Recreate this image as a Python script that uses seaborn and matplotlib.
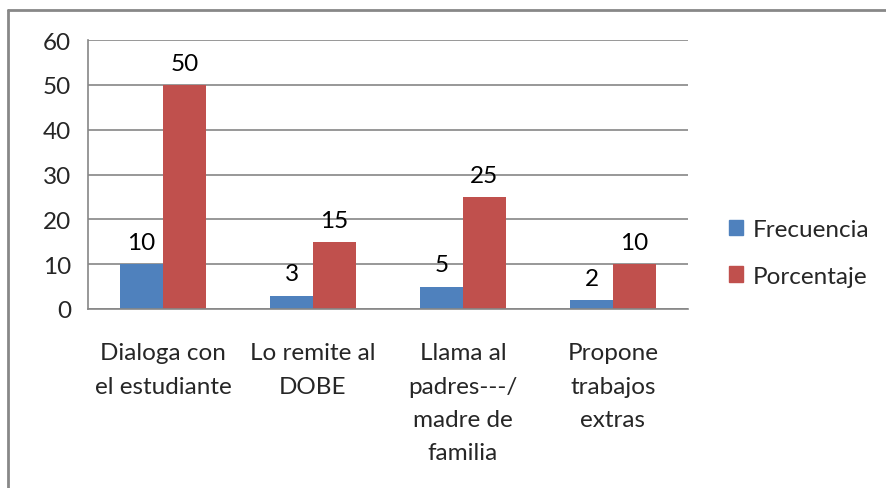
import pandas as pd
import matplotlib.pyplot as plt
import seaborn as sns
from matplotlib.lines import Line2D

# data
categorias = ["Dialoga con\nel estudiante", "Lo remite al\nDOBE",
              "Llama al\npadres---/\nmadre de\nfamilia", "Propone\ntrabajos\nextras"]
frecuencia = [10, 3, 5, 2]
porcentaje = [50, 15, 25, 10]

df = pd.DataFrame({
    "categoria": categorias * 2,
    "valor": frecuencia + porcentaje,
    "serie": ["Frecuencia"] * 4 + ["Porcentaje"] * 4,
})

sns.set_style("white")
plt.rcParams['font.family'] = ['Lato', 'DejaVu Sans']
fs = 17.5

fig = plt.figure(figsize=(8.87, 4.89), dpi=100)
ax = fig.add_axes([88 / 887, 1 - 310 / 489, 600 / 887, 269 / 489])

sns.barplot(data=df, x="categoria", y="valor", hue="serie", ax=ax,
            palette=["#4F81BD", "#C0504D"], width=0.573, saturation=1,
            edgecolor="none")

for cont in ax.containers:
    ax.bar_label(cont, padding=8, fontsize=fs, color="black")

ax.set_ylim(0, 60)
ax.set_yticks(range(0, 61, 10))
ax.set_xlim(-0.5, 3.5)
ax.set_xlabel("")
ax.set_ylabel("")
ax.yaxis.grid(True, color="#868686", lw=1.2)
ax.set_axisbelow(True)
for s in ["top", "right"]:
    ax.spines[s].set_visible(False)
for s in ["left", "bottom"]:
    ax.spines[s].set_color("#868686")
    ax.spines[s].set_linewidth(1.2)

ax.tick_params(axis="y", length=7, color="#868686", width=1.2, labelsize=fs, pad=5)
ax.tick_params(axis="x", which="major", length=0, labelsize=fs, pad=24)
ax.set_xticks([-0.5, 0.5, 1.5, 2.5, 3.5], minor=True)
ax.tick_params(axis="x", which="minor", length=7, color="#868686", width=1.2)
for t in ax.get_xticklabels():
    t.set_linespacing(1.72)

ax.legend_.remove()
handles = [plt.Rectangle((0, 0), 1, 1, color="#4F81BD"),
           plt.Rectangle((0, 0), 1, 1, color="#C0504D")]
fig.legend(handles, ["Frecuencia", "Porcentaje"], frameon=False, fontsize=fs,
           loc="center left", bbox_to_anchor=(707 / 887, 1 - 254 / 489),
           handlelength=0.6, handleheight=0.6, handletextpad=0.4, labelspacing=1.05)

# outer chart border
fig.add_artist(Line2D([8 / 887, 8 / 887], [0, 1 - 11 / 489], transform=fig.transFigure,
                      color="#888888", lw=2))
fig.add_artist(Line2D([8 / 887, 1], [1 - 11 / 489, 1 - 11 / 489], transform=fig.transFigure,
                      color="#888888", lw=2))

fig.savefig("out.png", dpi=100)
